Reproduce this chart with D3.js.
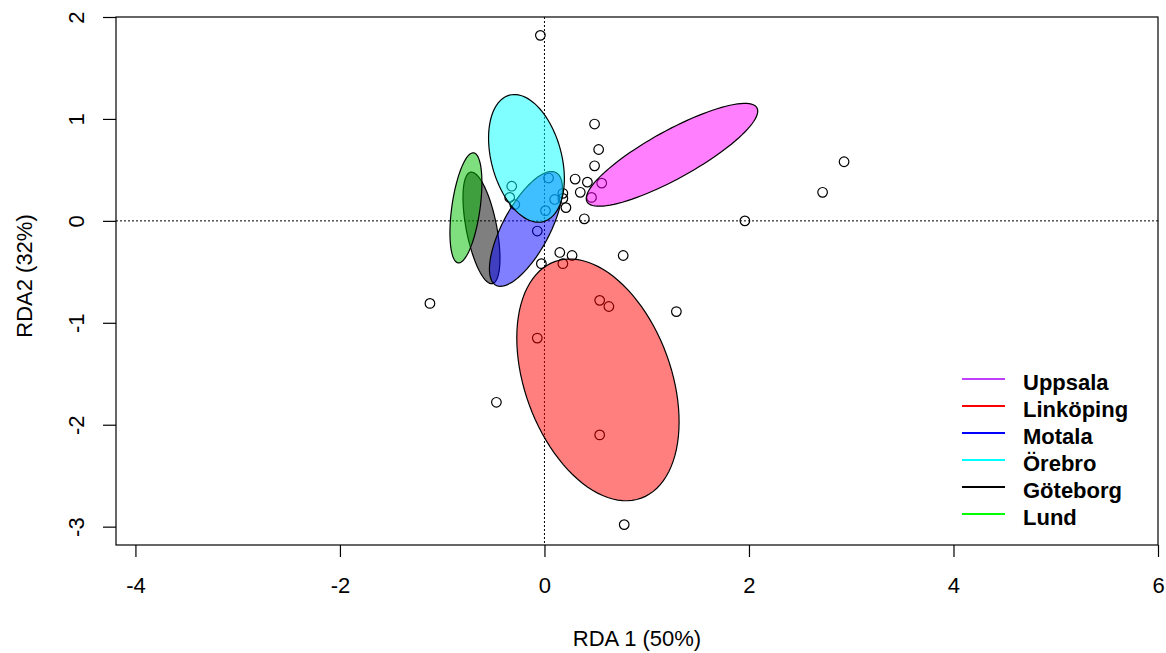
<!DOCTYPE html>
<html>
<head>
<meta charset="utf-8">
<script src="https://cdn.jsdelivr.net/npm/d3@7"></script>
<style>
  body { margin: 0; background: #fff; }
  text { font-family: "Liberation Sans", Arial, sans-serif; }
</style>
</head>
<body>
<div id="chart"></div>
<script>
// site scores (RDA1, RDA2)
const siteX = [-0.04, 0.49, 0.53, 0.49, 0.30, 0.42, 0.56, 0.35, 0.46, 0.18, 0.18, 0.21, 0.39,
  1.96, 2.72, 2.93, 0.04, 0.10, 0.01, -0.32, -0.34, -0.29, -0.07, 0.15, 0.27, -0.03, 0.18,
  0.77, -1.12, 0.54, 0.63, 1.29, -0.07, -0.47, 0.54, 0.78];
const siteY = [1.82, 0.95, 0.70, 0.54, 0.41, 0.38, 0.37, 0.28, 0.23, 0.27, 0.22, 0.13, 0.02,
  0.00, 0.28, 0.58, 0.42, 0.21, 0.10, 0.34, 0.23, 0.16, -0.10, -0.31, -0.34, -0.42, -0.42,
  -0.34, -0.81, -0.78, -0.84, -0.89, -1.15, -1.78, -2.10, -2.98];

// group ellipses, in plotting order (centre, semi-axes, angle in degrees)
const groups   = ["Göteborg", "Linköping", "Lund", "Motala", "Uppsala", "Örebro"];
const ellCx    = [-0.616, 0.523, -0.768, -0.181, 1.247, -0.176];
const ellCy    = [-0.069, -1.56, 0.128, -0.079, 0.648, 0.613];
const ellA     = [0.557, 1.235, 0.545, 0.626, 0.95, 0.642];
const ellB     = [0.149, 0.715, 0.138, 0.23, 0.235, 0.343];
const ellAng   = [-79, -70, 82, 62, 29, -75];
const ellFill  = ["#000000", "#ff0000", "#00c000", "#0000ff", "#ff00ff", "#00ffff"];

// legend
const legendNames  = ["Uppsala", "Linköping", "Motala", "Örebro", "Göteborg", "Lund"];
const legendColors = ["#bf3eff", "#ff0000", "#0000ff", "#00ffff", "#000000", "#00ff00"];

const xTicks = [-4, -2, 0, 2, 4, 6];
const yTicks = [2, 1, 0, -1, -2, -3];

const width = 1166, height = 653;
const margin = { top: 17, right: 8, bottom: 108, left: 116 };

const svg = d3.select("#chart").append("svg")
    .attr("width", width)
    .attr("height", height);

const x = d3.scaleLinear()
    .domain([-4.19, 6.0])
    .range([margin.left, width - margin.right]);

const y = d3.scaleLinear()
    .domain([-3.18, 2.0])
    .range([height - margin.bottom, margin.top]);

// dotted zero lines
svg.append("line")
    .attr("x1", x(0)).attr("x2", x(0))
    .attr("y1", margin.top).attr("y2", height - margin.bottom)
    .attr("stroke", "#000").attr("stroke-dasharray", "2,2");
svg.append("line")
    .attr("x1", margin.left).attr("x2", width - margin.right)
    .attr("y1", y(0)).attr("y2", y(0))
    .attr("stroke", "#000").attr("stroke-dasharray", "2,2");

// sites
svg.selectAll("circle.site")
    .data(siteX)
    .enter()
    .append("circle")
    .attr("class", "site")
    .attr("cx", d => x(d))
    .attr("cy", (d, i) => y(siteY[i]))
    .attr("r", 4.8)
    .attr("fill", "none")
    .attr("stroke", "#000")
    .attr("stroke-width", 1.2);

// ellipses built in data space then scaled
const line = d3.line().x(d => x(d[0])).y(d => y(d[1]));
groups.forEach((g, i) => {
    const th = ellAng[i] * Math.PI / 180;
    const pts = d3.range(0, 101).map(k => {
        const t = k / 100 * 2 * Math.PI;
        return [
            ellCx[i] + ellA[i] * Math.cos(th) * Math.cos(t) - ellB[i] * Math.sin(th) * Math.sin(t),
            ellCy[i] + ellA[i] * Math.sin(th) * Math.cos(t) + ellB[i] * Math.cos(th) * Math.sin(t)
        ];
    });
    svg.append("path")
        .attr("d", line(pts) + "Z")
        .attr("fill", ellFill[i])
        .attr("fill-opacity", 0.5)
        .attr("stroke", "#000")
        .attr("stroke-width", 1.2);
});

// box
svg.append("rect")
    .attr("x", margin.left).attr("y", margin.top)
    .attr("width", width - margin.right - margin.left)
    .attr("height", height - margin.bottom - margin.top)
    .attr("fill", "none").attr("stroke", "#000").attr("stroke-width", 1.2);

const fmt = d => String(d);   // plain hyphen for negatives, like R

// x axis
const gx = svg.append("g")
    .attr("transform", `translate(0,${height - margin.bottom})`)
    .call(d3.axisBottom(x).tickValues(xTicks).tickSize(12).tickFormat(fmt));
gx.select(".domain").remove();
gx.selectAll("line").attr("stroke-width", 1.2);
gx.selectAll("text")
    .attr("font-size", 22).attr("fill", "#000")
    .style("font-family", "'Liberation Sans', Arial, sans-serif")
    .attr("y", 48).attr("dy", null);

// y axis
const gy = svg.append("g")
    .attr("transform", `translate(${margin.left},0)`)
    .call(d3.axisLeft(y).tickValues(yTicks).tickSize(13).tickFormat(fmt));
gy.select(".domain").remove();
gy.selectAll("line").attr("stroke-width", 1.2);
gy.selectAll("text")
    .attr("font-size", 22).attr("fill", "#000")
    .style("font-family", "'Liberation Sans', Arial, sans-serif")
    .attr("x", null)
    .attr("text-anchor", "middle")
    .attr("transform", "translate(-40,0) rotate(-90)")
    .attr("y", 0)
    .attr("dy", "0.36em");

// axis titles
svg.append("text")
    .attr("x", (margin.left + width - margin.right) / 2)
    .attr("y", 646)
    .attr("text-anchor", "middle")
    .attr("font-size", 22)
    .text("RDA 1 (50%)");

svg.append("text")
    .attr("transform", `translate(32,276) rotate(-90)`)
    .attr("text-anchor", "middle")
    .attr("font-size", 22)
    .text("RDA2 (32%)");

// legend
const lg = svg.append("g").attr("transform", "translate(962,379)");
legendNames.forEach((n, i) => {
    lg.append("line")
        .attr("x1", 0).attr("x2", 43)
        .attr("y1", i * 27).attr("y2", i * 27)
        .attr("stroke", legendColors[i]).attr("stroke-width", 2.2);
    lg.append("text")
        .attr("x", 61).attr("y", i * 27 + 11)
        .attr("font-size", 22)
        .attr("font-weight", "bold")
        .text(n);
});
</script>
</body>
</html>
